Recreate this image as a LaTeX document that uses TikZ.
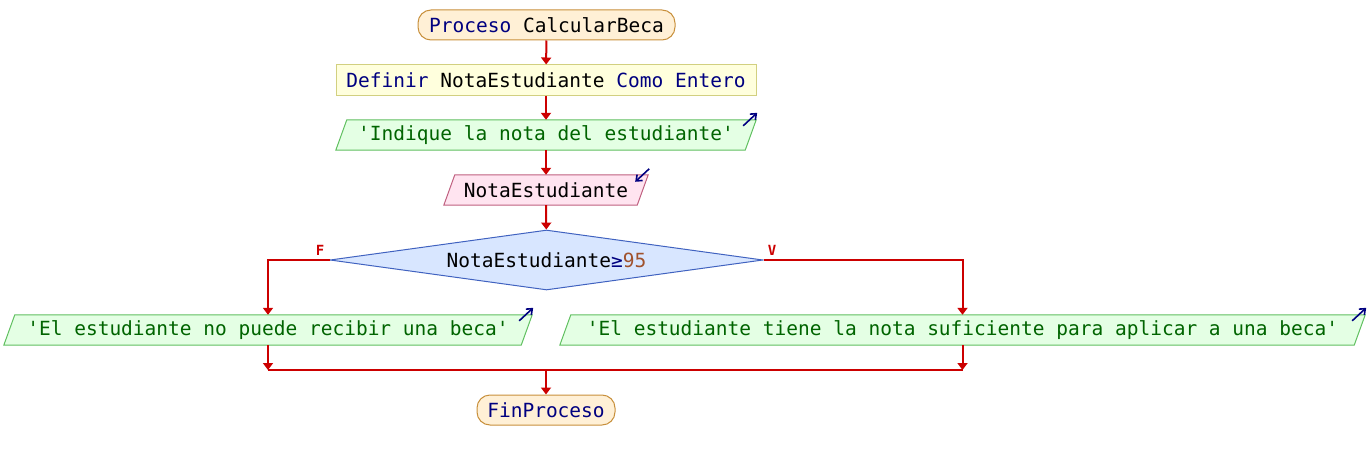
\documentclass[tikz,border=0pt]{standalone}
\usepackage{fontspec}
\setmonofont{DejaVu Sans Mono}
\usetikzlibrary{arrows.meta,shapes.geometric,backgrounds}
\definecolor{kw}{HTML}{000080}
\definecolor{str}{HTML}{006400}
\definecolor{num}{HTML}{A0522D}
\definecolor{flowred}{HTML}{CC0000}
\definecolor{termf}{HTML}{FFF0D6}
\definecolor{termb}{HTML}{C8903C}
\definecolor{deff}{HTML}{FFFFDD}
\definecolor{defb}{HTML}{D2D080}
\definecolor{outf}{HTML}{E4FFE4}
\definecolor{outb}{HTML}{60C060}
\definecolor{inf}{HTML}{FFE4F0}
\definecolor{inb}{HTML}{C06080}
\definecolor{decf}{HTML}{D8E6FF}
\definecolor{decb}{HTML}{4062C0}
\begin{document}
\begin{tikzpicture}[x=1pt,y=-1pt,
  every node/.style={font=\ttfamily\fontsize{19.5}{22}\selectfont, inner sep=0pt},
  term/.style={draw=termb, fill=termf, line width=1pt, rounded corners=13pt, minimum height=30pt},
  defbox/.style={draw=defb, fill=deff, line width=1pt, minimum height=30pt},
  iobox/.style={minimum height=30pt},
  decision/.style={diamond, draw=decb, fill=decf, line width=1pt, aspect=7.2, minimum width=433pt, minimum height=60pt},
  flow/.style={draw=flowred, line width=2pt, -{Triangle[length=7pt,width=10pt]}},
  plain/.style={draw=flowred, line width=2pt},
  lbl/.style={text=flowred, font=\ttfamily\bfseries\fontsize{14}{16}\selectfont},
  outarrow/.style={draw=kw, line width=1.6pt, -{Straight Barb[length=5pt,width=8pt]}}
]
\useasboundingbox (0,0) rectangle (1368,460);

\node[term, minimum width=257pt] (start) at (546.5,25) {{\color{kw}Proceso} CalcularBeca};
\node[defbox, minimum width=420pt] (def) at (546,80) {{\color{kw}Definir} NotaEstudiante {\color{kw}Como Entero}};
\node[iobox, minimum width=420pt] (in1) at (546,135) {{\color{str}'Indique la nota del estudiante'}};
\node[iobox, minimum width=204pt] (rd) at (546,190) {NotaEstudiante};
\node[decision] (dec) at (546.5,260) {NotaEstudiante{\color{kw}≥}{\color{num}95}};
\node[iobox, minimum width=528pt] (o1) at (268,330) {{\color{str}'El estudiante no puede recibir una beca'}};
\node[iobox, minimum width=805pt] (o2) at (962.5,330) {{\color{str}'El estudiante tiene la nota suficiente para aplicar a una beca'}};
\node[term, minimum width=138pt] (fin) at (546,410) {{\color{kw}FinProceso}};

\begin{scope}[on background layer]
\foreach \n/\f/\d in {in1/outf/outb, rd/inf/inb, o1/outf/outb, o2/outf/outb}
  \filldraw[fill=\f, draw=\d, line width=1pt] ([xshift=11pt]\n.north west) -- (\n.north east) -- ([xshift=-11pt]\n.south east) -- (\n.south west) -- cycle;
\end{scope}

% small io arrows
\foreach \n in {in1, o1, o2}
  \draw[outarrow] ([shift={(-13pt,-6pt)}]\n.north east) -- ([shift={(1pt,7pt)}]\n.north east);
\draw[outarrow] ([shift={(1pt,6pt)}]rd.north east) -- ([shift={(-13pt,-7pt)}]rd.north east);

\node[lbl] (lf) at (320,250) {F};
\node[lbl] (lv) at (772,250) {V};

\draw[flow] (start) -- (def);
\draw[flow] (def) -- (in1);
\draw[flow] (in1) -- (rd);
\draw[flow] (rd) -- (dec);
\draw[flow] (dec.west) -| (o1.north);
\draw[flow] (dec.east) -| (o2.north);
\coordinate (j) at (546,370);
\draw[flow] (o1.south) -- (o1.south |- j);
\draw[flow] (o2.south) -- (o2.south |- j);
\draw[plain] (o1.south |- j) -- (o2.south |- j);
\draw[flow] (j) -- (fin);
\end{tikzpicture}
\end{document}
